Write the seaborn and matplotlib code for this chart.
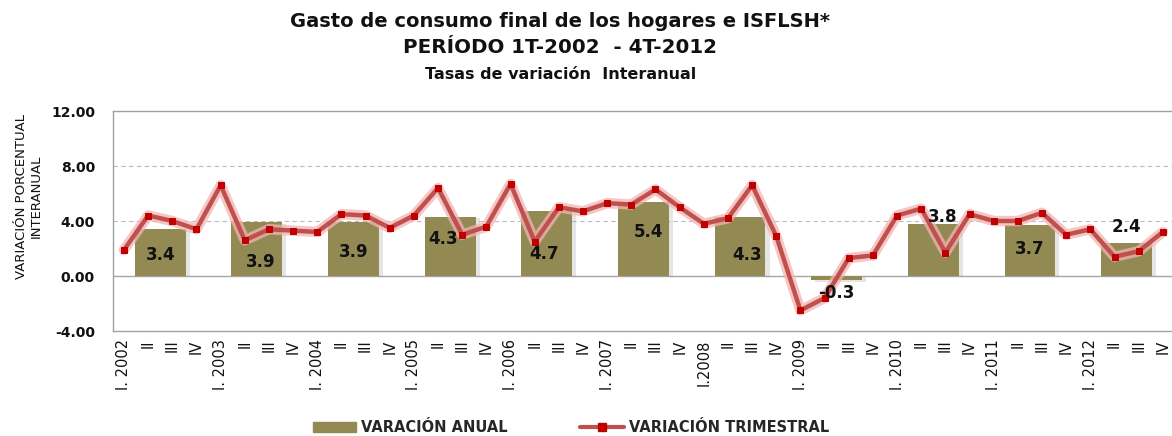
import numpy as np
import pandas as pd
import matplotlib
matplotlib.use("Agg")
import matplotlib.pyplot as plt
import matplotlib.patheffects as pe
from matplotlib.patches import Patch
from matplotlib.lines import Line2D
import seaborn as sns

# ---------------- data ----------------
years = ["2002", "2003", "2004", "2005", "2006", "2007", "2008", "2009", "2010", "2011", "2012"]
annual = [3.4, 3.9, 3.9, 4.3, 4.7, 5.4, 4.3, -0.3, 3.8, 3.7, 2.4]
quarterly = [1.9, 4.4, 4.0, 3.4,
             6.6, 2.6, 3.4, 3.3,
             3.2, 4.5, 4.4, 3.5,
             4.4, 6.4, 3.0, 3.6,
             6.7, 2.5, 5.0, 4.7,
             5.3, 5.2, 6.3, 5.0,
             3.8, 4.2, 6.6, 2.9,
             -2.5, -1.6, 1.3, 1.5,
             4.4, 4.9, 1.7, 4.5,
             4.0, 4.0, 4.6, 3.0,
             3.4, 1.4, 1.8, 3.2]
tick_labels = []
for y in years:
    first = "I.2008" if y == "2008" else f"I. {y}"
    tick_labels += [first, "II", "III", "IV"]
yticks = [-4, 0, 4, 8, 12]
ytick_labels = ["-4.00", "0.00", "4.00", "8.00", "12.00"]

# label placement (layout only): (x offset in quarters, y position)
label_pos = [(0, 1.5), (0.15, 1.0), (0, 1.75), (-0.3, 2.7), (-0.1, 1.6), (0.2, 3.2),
             (0.3, 1.5), (0, -1.2), (0.4, 4.3), (0, 2.0), (0, 3.6)]

BAR_C = "#938953"
LINE_C = "#C0504D"
MARK_C = "#C00000"
GLOW_C = "#F2B4B2"

sns.set_theme(style="white")
plt.rcParams["font.family"] = ["DejaVu Sans"]

fig = plt.figure(figsize=(11.72, 4.36), dpi=100)
ax = fig.add_axes([113 / 1172, (436 - 331) / 436, (1172 - 113) / 1172, 220 / 436])

q_idx = np.arange(len(quarterly))
bar_x = np.arange(len(years)) * 4 + 1.5
df_bar = pd.DataFrame({"x": bar_x, "v": annual})
df_q = pd.DataFrame({"x": q_idx, "v": quarterly})

sns.barplot(data=df_bar, x="x", y="v", native_scale=True, width=0.525,
            color=BAR_C, saturation=1, ax=ax, zorder=2, linewidth=0)
for p in ax.patches:
    p.set_path_effects([pe.SimplePatchShadow(offset=(3, -1), shadow_rgbFace="#9A9A9A", alpha=0.25),
                        pe.Normal()])

# glow underneath
sns.lineplot(data=df_q, x="x", y="v", ax=ax, color=GLOW_C, linewidth=7.5, alpha=0.75, zorder=3)
sns.lineplot(data=df_q, x="x", y="v", ax=ax, color=LINE_C, linewidth=3.2,
             marker="s", markersize=4.5, markerfacecolor=MARK_C, markeredgecolor=MARK_C,
             zorder=4)

for bx, val, (dx, ly) in zip(bar_x, annual, label_pos):
    ax.text(bx + dx, ly, f"{val:.1f}", ha="center", va="center", fontsize=12,
            fontweight="bold", color="#111111", zorder=6)

ax.set_xlim(-0.455, 43.38)
ax.set_ylim(-4, 12)
ax.set_yticks(yticks)
ax.set_yticklabels(ytick_labels, fontsize=10, fontweight="bold", color="#111111")
ax.set_xticks(q_idx)
ax.set_xticklabels(tick_labels, rotation=90, fontsize=10.5, color="#111111")
ax.tick_params(axis="x", length=0, pad=6)
ax.tick_params(axis="y", length=0, pad=13)
ax.set_xlabel("")
ax.set_ylabel("VARIACIÓN PORCENTUAL\nINTERANUAL", fontsize=9.5, color="#111111")
ax.yaxis.set_label_coords(-0.066, 0.61)

for yv in [4, 8]:
    ax.axhline(yv, color="#BBBBBB", linestyle=(0, (4, 3)), linewidth=0.8, zorder=1)
ax.axhline(0, color="#A6A6A6", linewidth=1.0, zorder=1)

for s in ["left", "bottom", "top"]:
    ax.spines[s].set_color("#A0A0A0")
    ax.spines[s].set_linewidth(1.0)
ax.spines["right"].set_visible(False)

fig.text(0.478, 0.95, "Gasto de consumo final de los hogares e ISFLSH*", ha="center", va="center",
         fontsize=14, fontweight="bold", color="#111111")
fig.text(0.478, 0.89, "PERÍODO 1T-2002  - 4T-2012", ha="center", va="center",
         fontsize=14.3, fontweight="bold", color="#111111")
fig.text(0.478, 0.83, "Tasas de variación  Interanual", ha="center", va="center",
         fontsize=11.5, fontweight="bold", color="#111111")

handles = [Patch(facecolor=BAR_C, edgecolor=BAR_C),
           Line2D([0], [0], color=LINE_C, linewidth=3, marker="s", markersize=6,
                  markerfacecolor=MARK_C, markeredgecolor=MARK_C)]
fig.legend(handles, ["VARACIÓN ANUAL", "VARIACIÓN TRIMESTRAL"], loc="center",
           bbox_to_anchor=(0.487, 0.02), ncol=2, frameon=False,
           prop={"size": 10.5, "weight": "bold"}, columnspacing=5, handlelength=3,
           handletextpad=0.3)

fig.savefig("out.png", dpi=100)
